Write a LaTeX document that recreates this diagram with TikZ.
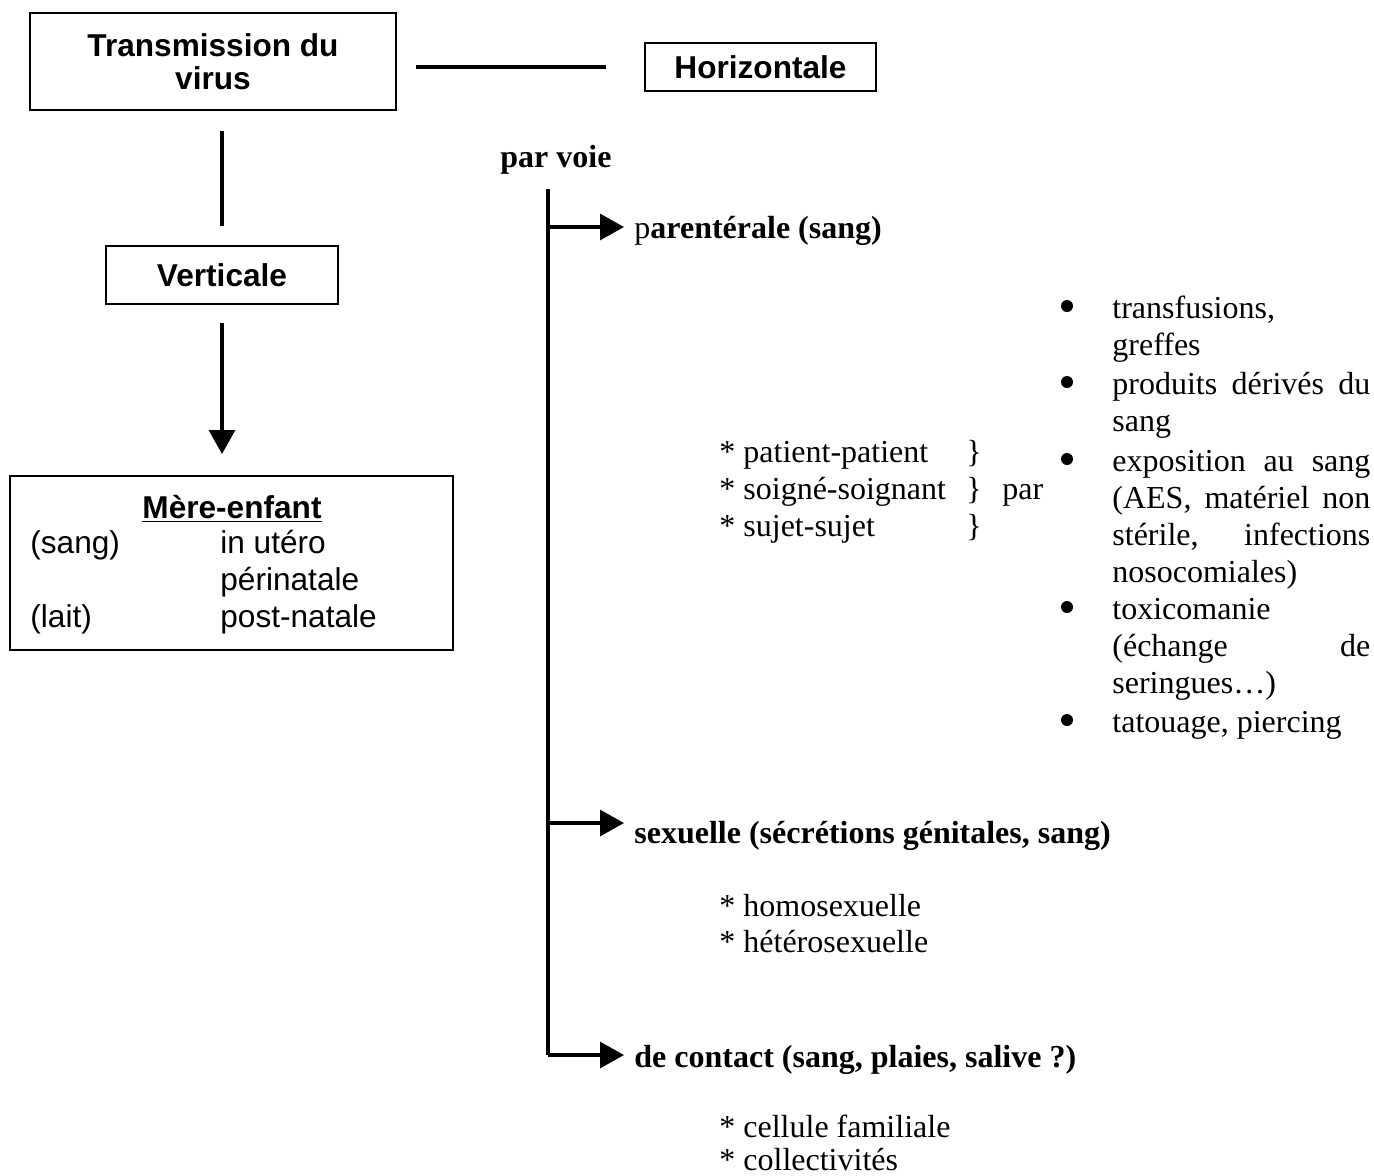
\documentclass[tikz,border=0pt]{standalone}
\usepackage{fontspec}
\setmainfont{Liberation Serif}
\newfontfamily\arialf{Liberation Sans}
\usetikzlibrary{arrows.meta}
\begin{document}
\begin{tikzpicture}[x=0.5pt,y=-0.5pt,
  box/.style={draw,line width=1pt,inner sep=0pt},
  link/.style={line width=1.6pt},
  arr/.style={line width=1.6pt,-{Triangle[length=12pt,width=13pt]}},
  sansb/.style={font=\arialf\bfseries\fontsize{15.8}{16.5}\selectfont},
  sans/.style={font=\arialf\fontsize{15.8}{18.5}\selectfont,inner sep=0pt,anchor=base west},
  ser/.style={font=\fontsize{16}{18.5}\selectfont,inner sep=0pt,anchor=base west},
  serb/.style={font=\bfseries\fontsize{16}{18.5}\selectfont,inner sep=0pt,anchor=base west},
  dot/.style={circle,fill,inner sep=0pt,minimum size=6pt}]
\useasboundingbox (0,0) rectangle (1374,1175);

% left part
\node[box,sansb,align=center,minimum width=183pt,minimum height=48.5pt] (title) at (213,61.5) {Transmission du\\virus};
\node[box,sansb,minimum width=115.5pt,minimum height=24pt] (horiz) at (760.5,67) {Horizontale};
\node[box,sansb,minimum width=116pt,minimum height=29pt] (vert) at (222,275) {Verticale};
\node[box,minimum width=221.5pt,minimum height=87pt] (mere) at (231.5,563) {};

\draw[link,shorten <=9.5pt,shorten >=19pt] (title.east |- horiz.west) -- (horiz.west);
\draw[link,shorten <=10pt,shorten >=9.5pt] (vert.north |- title.south) -- (vert.north);
\draw[arr,shorten <=9pt,shorten >=10.5pt] (vert.south) -- (vert.south |- mere.north);

\node[sans,font=\arialf\bfseries\fontsize{15.8}{18.5}\selectfont,anchor=base] (metitle) at (232,518) {\underline{Mère-enfant}};
\node[sans] (m1a) at (30,553) {(sang)};
\node[sans] (m1b) at (220,553) {in utéro};
\node[sans] (m2b) at (220,590) {périnatale};
\node[sans] (m3a) at (30,627) {(lait)};
\node[sans] (m3b) at (220,627) {post-natale};

% right part
\node[serb] (parvoie) at (500,167) {par voie};
\coordinate (ttop) at (548,189);
\coordinate (tbot) at (548,1055);
\draw[link] (ttop) -- (tbot);

\node[ser] (v1) at (634,238) {p\textbf{arentérale (sang)}};
\node[serb] (v2) at (634,843) {sexuelle (sécrétions génitales, sang)};
\node[serb] (v3) at (634,1067) {de contact (sang, plaies, salive ?)};

\coordinate (a1) at (548,227);
\coordinate (a2) at (548,823);
\draw[arr,shorten >=5pt] (a1) -- (a1 -| v1.west);
\draw[arr,shorten >=5pt] (a2) -- (a2 -| v2.west);
\draw[arr,shorten >=5pt] (tbot) -- (tbot -| v3.west);

% parenterale details
\node[ser] (pp1) at (719,462) {* patient-patient};
\node[ser] (pp2) at (719,499) {* soigné-soignant};
\node[ser] (pp3) at (719,536) {* sujet-sujet};
\node[ser] (br1) at (966,462) {\}};
\node[ser] (br2) at (966,499) {\}};
\node[ser] (br3) at (966,536) {\}};
\node[ser] (par) at (1002,499) {par};

\node[dot] (bu1) at (1067,306) {};
\node[dot] (bu2) at (1067,382) {};
\node[dot] (bu3) at (1067,459) {};
\node[dot] (bu4) at (1067,607) {};
\node[dot] (bu5) at (1067,720) {};

\node[ser] (it1) at (1112,318) {\parbox[t]{129pt}{transfusions,\\greffes}};
\node[ser] (it2) at (1112,394) {\parbox[t]{129pt}{\makebox[\linewidth][s]{produits dérivés du}\\sang}};
\node[ser] (it3) at (1112,471) {\parbox[t]{129pt}{\makebox[\linewidth][s]{exposition au sang}\\\makebox[\linewidth][s]{(AES, matériel non}\\\makebox[\linewidth][s]{stérile, infections}\\nosocomiales)}};
\node[ser] (it4) at (1112,619) {\parbox[t]{129pt}{toxicomanie\\\makebox[\linewidth][s]{(échange de}\\seringues…)}};
\node[ser] (it5) at (1112,732) {\parbox[t]{129pt}{tatouage, piercing}};

% sexuelle details
\node[ser] (s1) at (719,916) {* homosexuelle};
\node[ser] (s2) at (719,952) {* hétérosexuelle};

% contact details
\node[ser] (c1) at (719,1137) {* cellule familiale};
\node[ser] (c2) at (719,1170) {* collectivités};
\end{tikzpicture}
\end{document}
